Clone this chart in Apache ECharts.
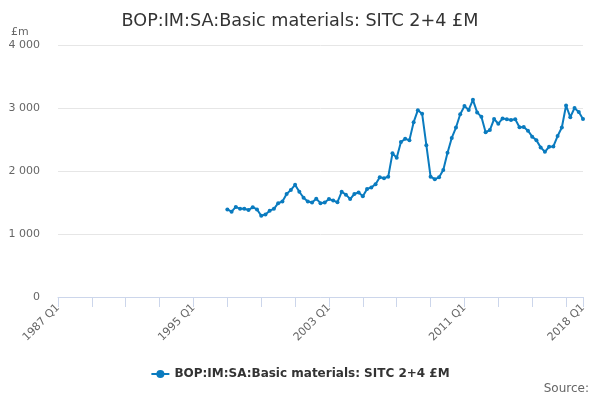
<!DOCTYPE html>
<html>
<head>
<meta charset="utf-8">
<script src="https://cdn.jsdelivr.net/npm/echarts@6/dist/echarts.min.js"></script>
<style>
  html, body { margin: 0; padding: 0; background: #fff; }
  #chart { width: 600px; height: 400px; }
</style>
</head>
<body>
<div id="chart"></div>
<script>
// quarters 1987 Q1 .. 2018 Q1
const quarters = [];
for (let y = 1987; y <= 2018; y++) {
  for (let q = 1; q <= 4; q++) {
    if (y === 2018 && q > 1) break;
    quarters.push(y + ' Q' + q);
  }
}

// values from 1997 Q1 onwards, £m
const values = [
  1390, 1355, 1430, 1400,
  1400, 1380, 1425, 1390,
  1290, 1310, 1370, 1400,
  1490, 1515, 1635, 1700,
  1780, 1670, 1575, 1515,
  1500, 1560, 1490, 1500,
  1555, 1530, 1505, 1670,
  1625, 1555, 1635, 1660,
  1600, 1715, 1740, 1790,
  1900, 1885, 1910, 2280,
  2210, 2460, 2510, 2490,
  2775, 2965, 2910, 2410,
  1910, 1870, 1900, 2015,
  2290, 2525, 2690, 2900,
  3030, 2970, 3130, 2930,
  2860, 2615, 2650, 2825,
  2750, 2835, 2820, 2810,
  2820, 2695, 2700, 2640,
  2545, 2490, 2375, 2305,
  2385, 2390, 2555, 2690,
  3040, 2855, 3000, 2935,
  2825
];
const startIndex = quarters.indexOf('1997 Q1');
const seriesData = quarters.map((q, i) => i < startIndex ? null : values[i - startIndex]);

const seriesName = 'BOP:IM:SA:Basic materials: SITC 2+4 £M';
const lineColor = '#0a7bbf';
const last = quarters.length - 1;

const chart = echarts.init(document.getElementById('chart'));
chart.setOption({
  animation: false,
  textStyle: { fontFamily: 'DejaVu Sans' },
  title: {
    text: seriesName,
    left: 'center',
    top: 7,
    textStyle: { fontSize: 17.6, fontWeight: 'normal', color: '#333' }
  },
  graphic: [
    { type: 'text', left: 11, top: 27, style: { text: '£m', fill: '#666', font: '11px DejaVu Sans' } },
    { type: 'text', right: 11, top: 383, style: { text: 'Source:', fill: '#666', font: '12px DejaVu Sans' } }
  ],
  legend: {
    bottom: 15,
    left: 'center',
    itemWidth: 18,
    itemHeight: 10,
    textStyle: { fontSize: 12, fontWeight: 'bold', color: '#333' },
    data: [seriesName]
  },
  grid: { left: 58, right: 17, top: 45, bottom: 103 },
  xAxis: {
    type: 'category',
    data: quarters,
    boundaryGap: false,
    axisLine: { lineStyle: { color: '#ccd6eb' } },
    axisTick: {
      length: 10,
      lineStyle: { color: '#ccd6eb' },
      interval: (i) => i % 8 === 0 || i === last
    },
    axisLabel: {
      rotate: 45,
      color: '#666',
      fontSize: 11,
      margin: 9,
      interval: (i) => i % 32 === 0 || i === last
    },
    splitLine: { show: false }
  },
  yAxis: {
    type: 'value',
    min: 0,
    max: 4000,
    interval: 1000,
    axisLine: { show: false },
    axisTick: { show: false },
    axisLabel: {
      color: '#666',
      fontSize: 11,
      margin: 18,
      formatter: (v) => String(v).replace(/\B(?=(\d{3})+(?!\d))/g, ' ')
    },
    splitLine: { lineStyle: { color: '#e6e6e6' } }
  },
  series: [{
    name: seriesName,
    type: 'line',
    data: seriesData,
    color: lineColor,
    symbol: 'circle',
    symbolSize: 4,
    showSymbol: true,
    showAllSymbol: true,
    lineStyle: { width: 2, color: lineColor },
    itemStyle: { color: lineColor }
  }]
});
</script>
</body>
</html>
